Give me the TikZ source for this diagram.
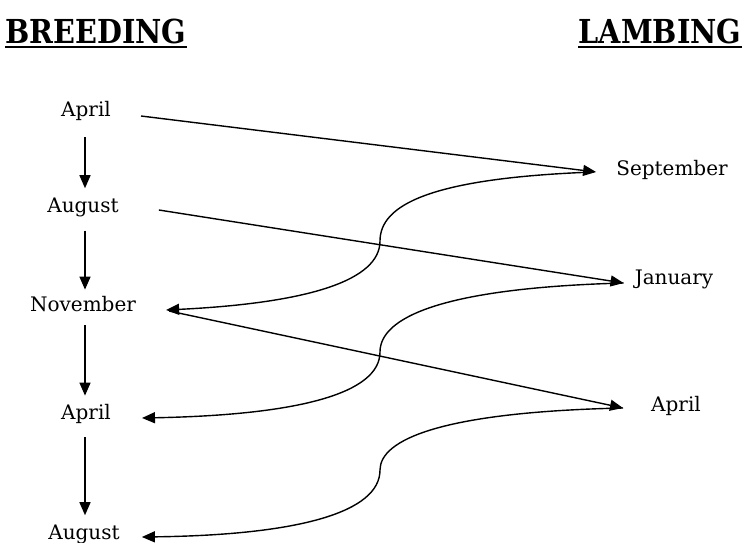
\documentclass[tikz,border=0pt]{standalone}
\usepackage{fontspec}
\setmainfont{DejaVu Serif}
\usetikzlibrary{arrows.meta,calc}
\begin{document}
\begin{tikzpicture}[x=1pt,y=-1pt,
  lbl/.style={font=\fontsize{20}{24}\selectfont, inner sep=0pt, anchor=base},
  head/.style={font=\fontsize{33}{40}\selectfont\bfseries, inner sep=0pt, anchor=base},
  arr/.style={line width=1.4pt, -{Triangle[length=13pt,width=11pt]}},
  uline/.style={line width=2pt}]
\useasboundingbox (0,0) rectangle (742,543);
% headings
\node[head] (breed) at (96,44) {\scalebox{0.87}[1]{BREEDING}};
\node[head] (lamb) at (660,44) {\scalebox{0.87}[1]{LAMBING}};
\draw[uline] ($(breed.base west)+(0,3)$) -- ($(breed.base east)+(0,3)$);
\draw[uline] ($(lamb.base west)+(0,3)$) -- ($(lamb.base east)+(0,3)$);
% breeding column
\node[lbl] (a1) at (86,117) {April};
\node[lbl] (g1) at (83,212) {August};
\node[lbl] (n)  at (83,311) {November};
\node[lbl] (a2) at (86,419) {April};
\node[lbl] (g2) at (84,539) {August};
\coordinate (vx) at (85,0);
% lambing column
\node[lbl] (s) at (672,175) {September};
\node[lbl] (j) at (674,284) {January};
\node[lbl] (r) at (676,411) {April};
% vertical arrows
\draw[arr] ($(a1.south -| vx)+(0,16)$) -- ($(g1.north -| vx)+(0,-9)$);
\draw[arr] ($(g1.south -| vx)+(0,14)$) -- ($(n.north -| vx)+(0,-6)$);
\draw[arr] ($(n.south -| vx)+(0,14)$) -- ($(a2.north -| vx)+(0,-8)$);
\draw[arr] ($(a2.south -| vx)+(0,14)$) -- ($(g2.north -| vx)+(0,-9)$);
% straight arrows
\draw[arr] ($(a1.base east)+(30,-1)$) -- ($(s.base west)+(-20,-3)$);
\draw[arr] ($(g1.base east)+(40,-2)$) -- ($(j.base west)+(-11,-1)$);
\draw[arr] ($(n.base east)+(33,0)$) -- ($(r.base west)+(-28,-3)$);
% curved arrows
\draw[arr] ($(s.base west)+(-22,-3)$) .. controls (430,178) and (380,205) .. (380,241)
  .. controls (380,280) and (310,303) .. ($(n.base east)+(30,-1)$);
\draw[arr] ($(j.base west)+(-11,-1)$) .. controls (440,288) and (380,318) .. (380,352)
  .. controls (380,393) and (300,415) .. ($(a2.base east)+(31,-1)$);
\draw[arr] ($(r.base west)+(-28,-3)$) .. controls (440,412) and (380,440) .. (380,470)
  .. controls (380,512) and (300,535) .. ($(g2.base east)+(22,-2)$);
\end{tikzpicture}
\end{document}
